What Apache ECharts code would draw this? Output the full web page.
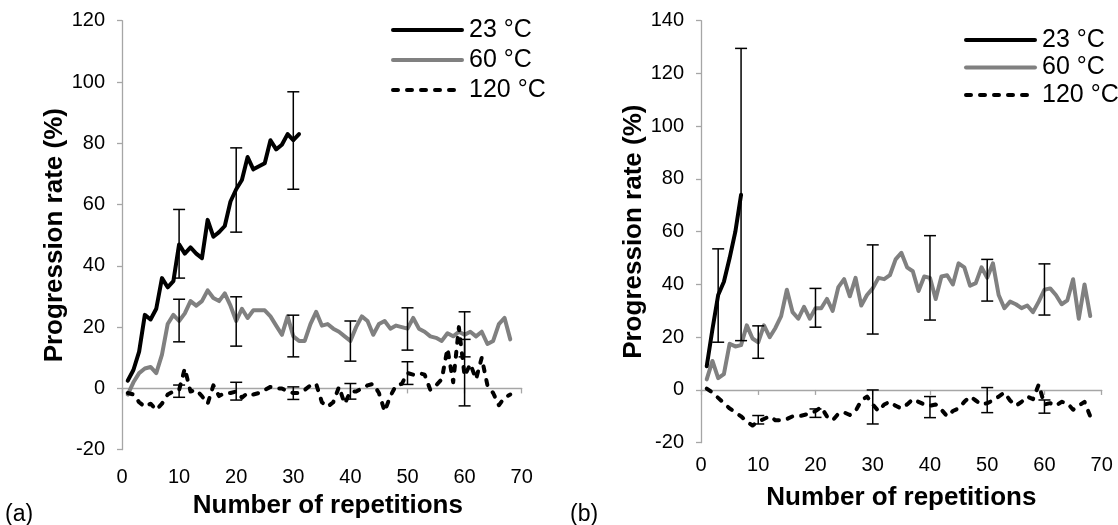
<!DOCTYPE html>
<html><head><meta charset="utf-8">
<script src="https://cdn.jsdelivr.net/npm/echarts@6/dist/echarts.min.js"></script>
<style>html,body{margin:0;padding:0;background:#fff;}#c{width:1118px;height:525px;}</style>
</head><body><div id="c"></div>
<script>
const FONT = '"Liberation Sans", Arial, sans-serif';
const seriesNames = ['23 °C', '60 °C', '120 °C'];

// Panel (a) values, repetition 1..n
const a23 = [2.5,6,12,24,22.5,26,36,33,35,47,44,46,44,42.5,55,49.5,51,53,61,65,68,75.5,71.5,72.5,73.5,81,78,79.5,83,81,83];
const a60 = [-2,2,5,6.5,7,5,11,21,24,22,24.5,28.5,27,28.5,32,29.5,28.5,31,27,22,26,23,25.5,25.5,25.5,23.5,20.5,17.5,23.5,17,15.5,15.5,21,25,20.5,21,19.5,18.5,17,15.5,20,23.5,22,17.5,21,22,19.5,20.5,20,19.5,23,19.5,18.5,17,16.5,15.5,18,17,18.5,17.5,18.5,17,18.5,14.5,15.5,21,23,16];
const a120 = [-1.5,-2,-4.5,-6,-5,-7,-5,-2,-1,-0.5,6.5,-1,-0.5,-2.5,-5,1,-2.5,-1.5,-1.5,-1,-3,-1.5,-2,-1.5,-0.5,0.5,0,0,-1,-1.5,-1.5,-0.5,1,1.5,-4.5,-6,-4.5,0.5,-5,-1,-1,0,1,1.5,-1.5,-7.5,-2.5,1,1.5,5,4.5,5,4.5,-0.5,1,3,13,2,20,4,8,3,10,1,-1.5,-5.5,-3,-2];

// Panel (b) values, repetition 1..n
const b23 = [9,23,36,41,50,60,74];
const b60 = [4,11,4.5,6,17.5,16.5,17,24.5,19.5,18,24.5,20,23.5,28,38,29.5,27,31.5,27,31,31,34.5,30,39,42,35.5,42.5,32,36,38.5,42.5,42,43.5,49.5,52,46.5,45,37.5,43,42.5,34.5,43,43.5,40,48,46.5,39.5,40.5,46.5,42.5,48,36,31,33.5,32.5,31,32,29.5,33.5,38,38.5,36,32.5,34,42,27,40,28];
const b120 = [0.5,-1,-3,-5,-7,-8.5,-10,-12,-13.5,-12,-11,-10,-11.5,-11.5,-11,-10,-10,-9.5,-9,-8,-6.5,-10,-11.5,-9,-8.5,-9.5,-8,-4,-2.5,-5.5,-8,-5.5,-4.5,-6,-7,-5.5,-3.5,-4.5,-5.5,-6,-5.5,-7.5,-10,-8,-7,-4.5,-2.5,-4,-5.5,-5,-4,-2.5,-1,-4,-6,-4.5,-2.5,-3.5,2,-5.5,-5,-6,-4.5,-5,-7.5,-6,-4.5,-10];

// Error bars: x position, low, high
const errA23 = {x:[10,20,30], lo:[36,51,65], hi:[58.4,78.5,96.8]};
const errA60 = {x:[10,20,30,40,50,60], lo:[15.2,13.8,10.3,8.9,12.5,10.3], hi:[29.1,29.9,23.9,22,26.3,25]};
const errA120 = {x:[10,20,30,40,50,60], lo:[-2.9,-3.8,-3.6,-3.5,1.3,-5.7], hi:[1.1,2,0.5,1.6,8.7,16]};
const errB23 = {x:[3,7], lo:[18.1,18.7], hi:[53.5,129.5]};
const errB60 = {x:[10,20,30,40,50,60], lo:[12,23.8,21.2,26.5,33.7,28.4], hi:[24.3,38.5,55,58.5,49.5,47.8]};
const errB120 = {x:[10,20,30,40,50,60], lo:[-12.9,-10.4,-12.9,-10.5,-8.6,-8.8], hi:[-9.7,-7.2,0,-2.5,0.9,-3.8]};

const xMin = 0, xMax = 70, xStep = 10;
const yA = {min:-20, max:120, step:20};
const yB = {min:-20, max:140, step:20};
const xTitle = 'Number of repetitions';
const yTitle = 'Progression rate (%)';

const pairs = arr => arr.map((v,i)=>[i+1, v]);
const errData = e => e.x.map((x,i)=>[x, e.lo[i], e.hi[i]]);

const AXIS_COLOR = '#a6a6a6';
const styles = {
  '23 °C': {color:'#000', width:4, type:'solid'},
  '60 °C': {color:'#808080', width:4, type:'solid'},
  '120 °C': {color:'#000', width:4, type:[5,9]}
};

function errRender(params, api){
  const x = api.value(0);
  const lo = api.coord([x, api.value(1)]);
  const hi = api.coord([x, api.value(2)]);
  const w = 6;
  const st = {stroke:'#000', lineWidth:1.5, fill:null};
  return {type:'group', children:[
    {type:'line', shape:{x1:lo[0],y1:lo[1],x2:hi[0],y2:hi[1]}, style:st},
    {type:'line', shape:{x1:lo[0]-w,y1:lo[1],x2:lo[0]+w,y2:lo[1]}, style:st},
    {type:'line', shape:{x1:hi[0]-w,y1:hi[1],x2:hi[0]+w,y2:hi[1]}, style:st}
  ]};
}

function lineSeries(name, arr, idx){
  const s = styles[name];
  return {type:'line', name, data:pairs(arr), xAxisIndex:idx*2, yAxisIndex:idx,
    showSymbol:false, symbol:'none', smooth:false, z:3,
    lineStyle:{color:s.color, width:s.width, type:s.type, cap:'round', join:'round'},
    itemStyle:{color:s.color}, emphasis:{disabled:true}, animation:false};
}
function errSeries(e, idx){
  return {type:'custom', data:errData(e), xAxisIndex:idx*2, yAxisIndex:idx,
    renderItem:errRender, encode:{x:0, y:[1,2]}, z:5, animation:false, silent:true};
}

function xAxes(gridIndex, labelMargin, nameGap, namePadLeft){
  return [
    {type:'value', gridIndex, min:xMin, max:xMax, interval:xStep, position:'bottom',
     axisLine:{show:true, onZero:true, lineStyle:{color:AXIS_COLOR, width:1.3}},
     axisTick:{show:true, length:5, lineStyle:{color:AXIS_COLOR, width:1.3}},
     axisLabel:{show:false}, splitLine:{show:false}},
    {type:'value', gridIndex, min:xMin, max:xMax, interval:xStep, position:'bottom',
     axisLine:{show:false, onZero:false}, axisTick:{show:false},
     axisLabel:{show:true, margin:labelMargin, color:'#000', fontSize:20, fontFamily:FONT},
     splitLine:{show:false},
     name:xTitle, nameLocation:'middle', nameGap,
     nameTextStyle:{color:'#000', fontSize:26, fontWeight:'bold', fontFamily:FONT, padding:[0,0,0,namePadLeft]}}
  ];
}
function yAxis(gridIndex, r, nameGap){
  return {type:'value', gridIndex, min:r.min, max:r.max, interval:r.step,
    axisLine:{show:true, onZero:false, lineStyle:{color:AXIS_COLOR, width:1.3}},
    axisTick:{show:true, length:5, lineStyle:{color:AXIS_COLOR, width:1.3}},
    axisLabel:{margin:17, color:'#000', fontSize:20, fontFamily:FONT},
    splitLine:{show:false},
    name:yTitle, nameLocation:'middle', nameGap,
    nameTextStyle:{color:'#000', fontSize:26, fontWeight:'bold', fontFamily:FONT}};
}
function legend(left, top, gap){
  return {orient:'vertical', left, top, data:seriesNames, itemWidth:69, itemHeight:26,
    itemGap:gap, selectedMode:false,
    itemStyle:{opacity:0, borderWidth:0},
    lineStyle:{width:4},
    textStyle:{color:'#000', fontSize:25, fontFamily:FONT, lineHeight:26, padding:[0,0,0,2]}};
}

const chart = echarts.init(document.getElementById('c'), null, {renderer:'canvas'});
chart.setOption({
  backgroundColor:'#fff',
  animation:false,
  textStyle:{fontFamily:FONT},
  title:[
    {text:'(a)', left:0, top:498, textStyle:{fontSize:23, fontWeight:'normal', color:'#000', fontFamily:FONT}},
    {text:'(b)', left:565, top:498, textStyle:{fontSize:23, fontWeight:'normal', color:'#000', fontFamily:FONT}}
  ],
  legend:[legend(386, 12, 4), legend(959, 22, 1.5)],
  grid:[
    {left:122, top:20.7, width:399.7, height:429, containLabel:false, outerBoundsMode:'none'},
    {left:701, top:20.7, width:400.7, height:422, containLabel:false, outerBoundsMode:'none'}
  ],
  xAxis:[...xAxes(0, 18, 39, 12), ...xAxes(1, 13, 42, 0)],
  yAxis:[yAxis(0, yA, 54), yAxis(1, yB, 50)],
  series:[
    lineSeries('60 °C', a60, 0),
    lineSeries('120 °C', a120, 0),
    lineSeries('23 °C', a23, 0),
    errSeries(errA60, 0), errSeries(errA120, 0), errSeries(errA23, 0),
    lineSeries('60 °C', b60, 1),
    lineSeries('120 °C', b120, 1),
    lineSeries('23 °C', b23, 1),
    errSeries(errB60, 1), errSeries(errB120, 1), errSeries(errB23, 1)
  ]
});
</script></body></html>
